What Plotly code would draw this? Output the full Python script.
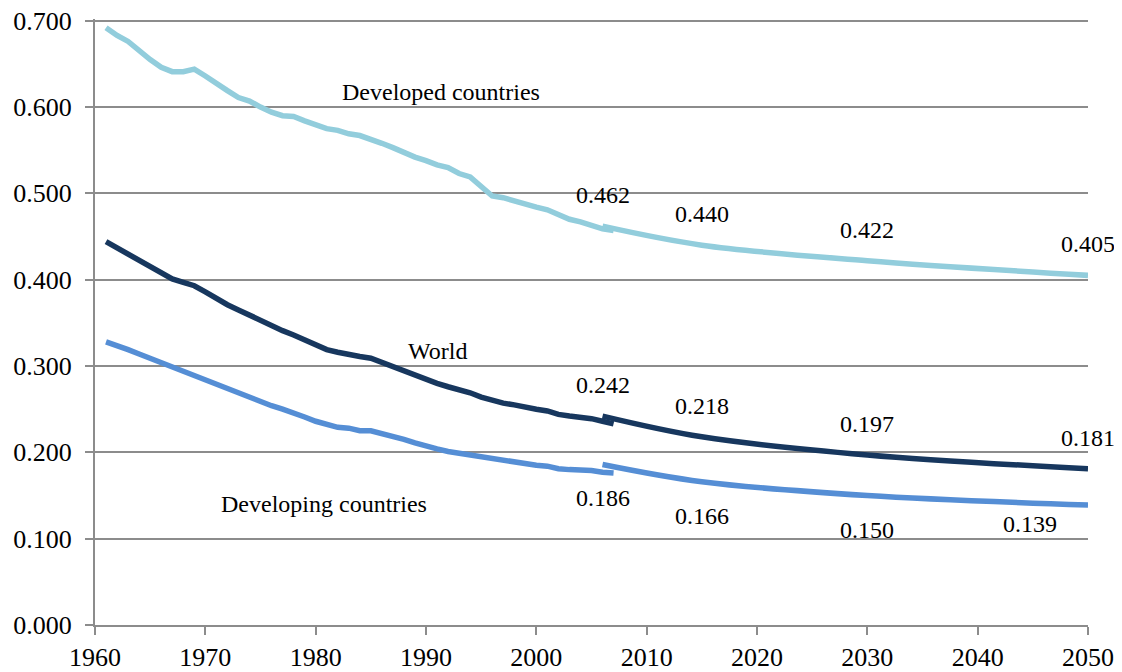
import plotly.graph_objects as go

# historical series, 1961-2007
hist_years = list(range(1961, 2008))
developed_hist = [
    0.692, 0.683, 0.676, 0.665, 0.655, 0.646, 0.641, 0.641, 0.644, 0.636,
    0.627, 0.619, 0.611, 0.607, 0.600, 0.594, 0.590, 0.589, 0.584, 0.580,
    0.575, 0.573, 0.569, 0.567, 0.563, 0.558, 0.553, 0.547, 0.542, 0.538,
    0.533, 0.530, 0.523, 0.519, 0.507, 0.497, 0.495, 0.491, 0.487, 0.484,
    0.481, 0.476, 0.470, 0.467, 0.463, 0.459, 0.457,
]
world_hist = [
    0.444, 0.437, 0.430, 0.423, 0.416, 0.408, 0.401, 0.397, 0.393, 0.386,
    0.378, 0.371, 0.365, 0.359, 0.352, 0.346, 0.341, 0.336, 0.330, 0.324,
    0.319, 0.316, 0.313, 0.311, 0.309, 0.304, 0.300, 0.295, 0.290, 0.285,
    0.280, 0.276, 0.273, 0.269, 0.264, 0.260, 0.257, 0.255, 0.252, 0.250,
    0.248, 0.244, 0.242, 0.241, 0.239, 0.236, 0.233,
]
developing_hist = [
    0.328, 0.324, 0.319, 0.314, 0.309, 0.303, 0.298, 0.293, 0.289, 0.283,
    0.278, 0.273, 0.268, 0.263, 0.259, 0.254, 0.250, 0.246, 0.241, 0.236,
    0.232, 0.229, 0.228, 0.225, 0.225, 0.222, 0.219, 0.215, 0.211, 0.207,
    0.204, 0.201, 0.199, 0.197, 0.195, 0.192, 0.190, 0.189, 0.187, 0.185,
    0.184, 0.181, 0.180, 0.180, 0.179, 0.177, 0.176,
]

# projections
proj_years = [2006, 2015, 2030, 2050]
developed_proj = [0.462, 0.440, 0.422, 0.405]
world_proj = [0.242, 0.218, 0.197, 0.181]
developing_proj = [0.186, 0.166, 0.150, 0.139]

x_ticks = [1960, 1970, 1980, 1990, 2000, 2010, 2020, 2030, 2040, 2050]
y_ticks = [0.0, 0.1, 0.2, 0.3, 0.4, 0.5, 0.6, 0.7]

COLORS = {
    'developed': '#92CDDC',
    'world': '#17375E',
    'developing': '#558ED5',
}
FONT = 'Liberation Serif'
GRID = '#8C8C8C'

fig = go.Figure()

series = [
    ('developed', developed_hist, developed_proj),
    ('world', world_hist, world_proj),
    ('developing', developing_hist, developing_proj),
]
for key, hist, proj in series:
    fig.add_trace(go.Scatter(x=hist_years, y=hist, mode='lines',
                             line=dict(color=COLORS[key], width=5.5),
                             showlegend=False, hoverinfo='skip'))
    fig.add_trace(go.Scatter(x=proj_years, y=proj, mode='lines',
                             line=dict(color=COLORS[key], width=5.5, shape='spline', smoothing=1),
                             showlegend=False, hoverinfo='skip'))

# value labels on the projections
for i, yr in enumerate(proj_years):
    for vals in (developed_proj, world_proj):
        fig.add_annotation(x=yr, y=vals[i], text=f'{vals[i]:.3f}', showarrow=False,
                           yshift=31, font=dict(family=FONT, size=24, color='black'))
    xs, ys = (-58, -19) if i == len(proj_years) - 1 else (0, -34)
    fig.add_annotation(x=yr, y=developing_proj[i], text=f'{developing_proj[i]:.3f}',
                       showarrow=False, xshift=xs, yshift=ys,
                       font=dict(family=FONT, size=24, color='black'))

# series names
names = [('Developed countries', 1991.4, 0.617),
         ('World', 1991.0, 0.317),
         ('Developing countries', 1980.8, 0.140)]
for txt, nx, ny in names:
    fig.add_annotation(x=nx, y=ny, text=txt, showarrow=False,
                       font=dict(family=FONT, size=24, color='black'))

fig.update_xaxes(range=[1960, 2050], tickvals=x_ticks, showgrid=False,
                 showline=True, linecolor=GRID, linewidth=2,
                 ticks='outside', ticklen=8, tickcolor=GRID, tickwidth=2,
                 tickfont=dict(family=FONT, size=26, color='black'),
                 ticklabelstandoff=0, ticklabeloverflow='allow',
                 zeroline=False, automargin=False)
# range goes a little past 0.7, otherwise plotly drops the top gridline at the edge
fig.update_yaxes(range=[0, 0.702], tickvals=y_ticks, tickformat='.3f',
                 showgrid=True, gridcolor=GRID, gridwidth=2,
                 showline=True, linecolor=GRID, linewidth=2,
                 ticks='outside', ticklen=8, tickcolor=GRID, tickwidth=2,
                 tickfont=dict(family=FONT, size=26, color='black'),
                 ticklabelstandoff=8, ticklabeloverflow='allow',
                 zeroline=False, automargin=False)

# the page body adds an 8px margin, so the figure is sized to fit the window
fig.update_layout(width=1114, height=664,
                  font=dict(family=FONT, color='black'),
                  margin=dict(l=87, r=34, t=11, b=47),
                  plot_bgcolor='white', paper_bgcolor='white',
                  showlegend=False)

fig.write_html("out.html")
